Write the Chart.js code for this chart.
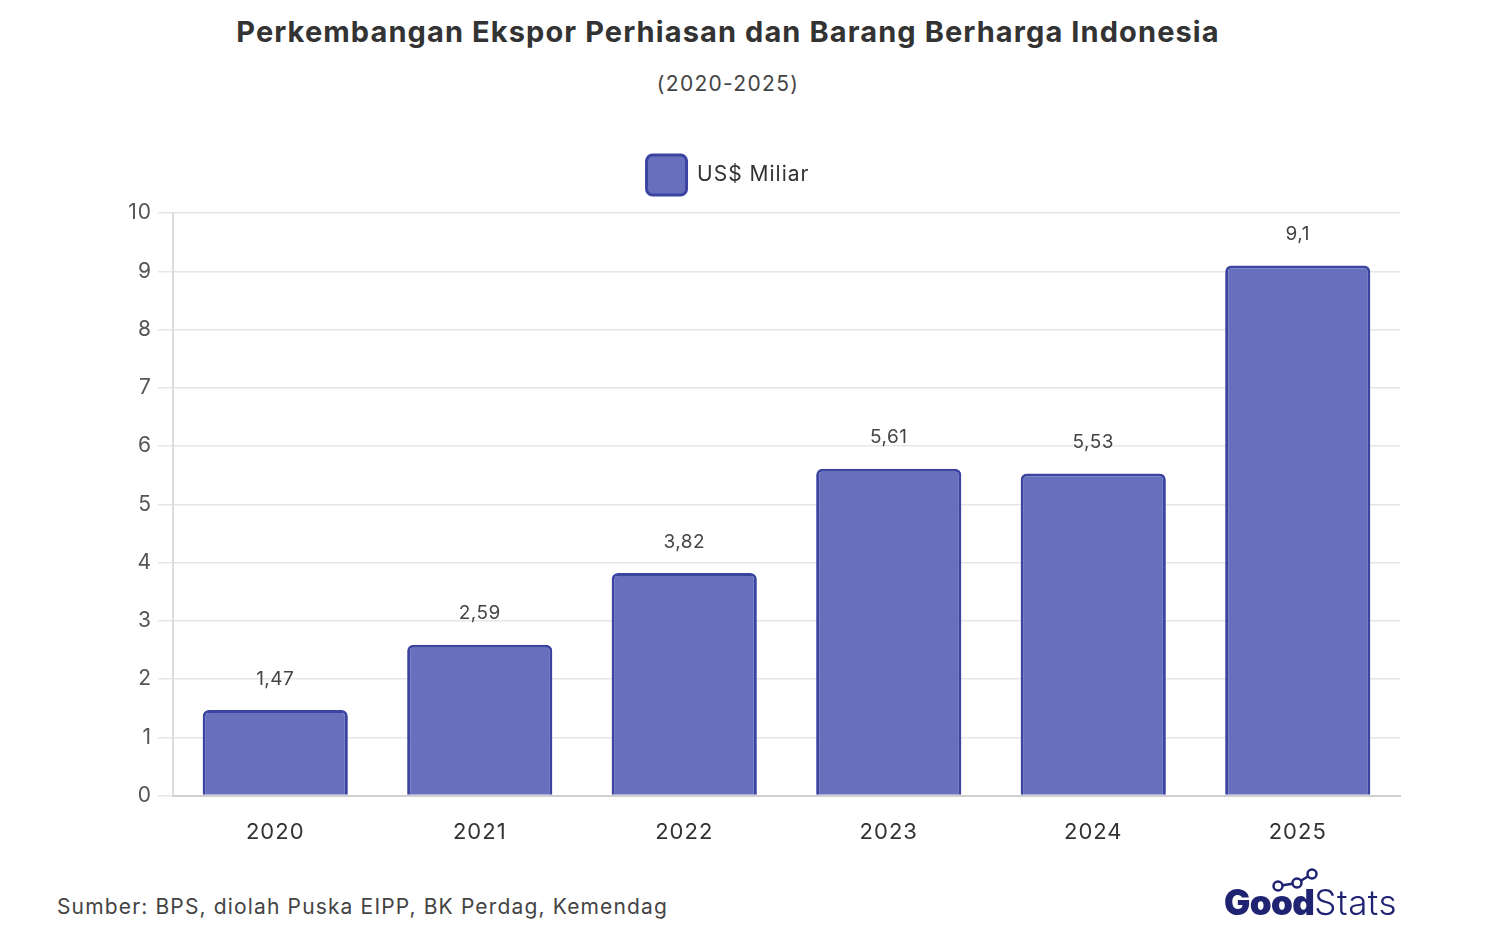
<!DOCTYPE html>
<html>
<head>
<meta charset="utf-8">
<script src="https://cdn.jsdelivr.net/npm/chart.js@4"></script>
<style>
    html, body { margin: 0; padding: 0; background: #fff; }
    body { width: 1506px; height: 946px; position: relative; overflow: hidden; font-family: 'Inter', sans-serif; }
    #title { position: absolute; left: 0; width: 1456px; top: 14px; text-align: center; font-size: 29px; font-weight: 700; color: #333; letter-spacing: 1.1px; }
    #subtitle { position: absolute; left: 0; width: 1456px; top: 71px; text-align: center; font-size: 21px; color: #444; letter-spacing: 1.3px; }
    #wrap { position: absolute; left: 0; top: 0; width: 1456px; height: 870px; }
    #source { position: absolute; left: 57px; top: 894px; font-size: 21px; color: #444; letter-spacing: 1.15px; }
    #logo { position: absolute; left: 1215px; top: 862px; width: 190px; height: 60px; }
</style>
</head>
<body>
<div id="title">Perkembangan Ekspor Perhiasan dan Barang Berharga Indonesia</div>
<div id="subtitle">(2020-2025)</div>
<div id="wrap"><canvas id="exportChart"></canvas></div>
<div id="source">Sumber: BPS, diolah Puska EIPP, BK Perdag, Kemendag</div>
<svg id="logo" viewBox="0 0 190 60">
    <polyline points="63,24 82,21 97,12" fill="none" stroke="#1f2372" stroke-width="2.5"/>
    <circle cx="63" cy="24" r="4.5" fill="#fff" stroke="#1f2372" stroke-width="2.5"/>
    <circle cx="82" cy="21" r="4.5" fill="#fff" stroke="#1f2372" stroke-width="2.5"/>
    <circle cx="97" cy="12" r="4.5" fill="#fff" stroke="#1f2372" stroke-width="2.5"/>
    <text x="9" y="53" font-family="Inter, sans-serif" font-size="35" fill="#1f2372"><tspan font-weight="900" letter-spacing="-0.6">Good</tspan><tspan font-weight="300" letter-spacing="0.5">Stats</tspan></text>
</svg>

<script>
// data
const years = ['2020', '2021', '2022', '2023', '2024', '2025'];
const eksporValues = [1.47, 2.59, 3.82, 5.61, 5.53, 9.1];
const seriesLabel = 'US$ Miliar';

// jarak huruf pada canvas (agar mirip font aslinya)
const letterSpacingPlugin = {
    id: 'letterSpacing',
    beforeUpdate(chart) {
        chart.ctx.letterSpacing = '1px';
    },
    beforeLayout(chart) {
        // beri jarak ekstra di bawah legenda
        const legend = chart.legend;
        if (legend && !legend._extraGap) {
            const origFit = legend.fit;
            legend.fit = function() {
                origFit.call(this);
                this.height += 8;
            };
            legend._extraGap = true;
        }
    },
    beforeDraw(chart) {
        chart.ctx.letterSpacing = '1px';
    }
};

// label angka di atas batang
const valueLabelPlugin = {
    id: 'valueLabels',
    afterDatasetsDraw(chart) {
        const ctx = chart.ctx;
        const meta = chart.getDatasetMeta(0);
        ctx.save();
        ctx.font = '19px Inter, sans-serif';
        ctx.letterSpacing = '0.5px';
        ctx.fillStyle = '#444';
        ctx.textAlign = 'center';
        ctx.textBaseline = 'middle';
        meta.data.forEach((bar, i) => {
            const text = String(eksporValues[i]).replace('.', ',');
            ctx.fillText(text, bar.x, bar.y - 31);
        });
        ctx.restore();
    }
};

const ctx = document.getElementById('exportChart').getContext('2d');
new Chart(ctx, {
    type: 'bar',
    data: {
        labels: years,
        datasets: [{
            label: seriesLabel,
            data: eksporValues,
            backgroundColor: 'rgba(103, 112, 189, 1)',
            borderColor: 'rgba(60, 68, 162, 1)',
            borderWidth: 3,
            borderRadius: 6,
            borderSkipped: 'bottom',
            barPercentage: 0.71,
            categoryPercentage: 1
        }]
    },
    options: {
        responsive: true,
        maintainAspectRatio: false,
        animation: false,
        layout: {
            padding: { top: 137, right: 56, bottom: 8, left: 56 }
        },
        plugins: {
            legend: {
                position: 'top',
                labels: {
                    boxWidth: 40,
                    boxHeight: 40,
                    useBorderRadius: true,
                    borderRadius: 6,
                    padding: 18,
                    color: '#333',
                    font: { family: 'Inter, sans-serif', size: 21 }
                }
            },
            tooltip: { enabled: false }
        },
        scales: {
            x: {
                grid: { display: false },
                border: { display: true, color: '#cfcfcf', width: 2 },
                ticks: {
                    color: '#333',
                    padding: 16,
                    font: { family: 'Inter, sans-serif', size: 22 }
                }
            },
            y: {
                min: 0,
                max: 10,
                afterFit: function(scale) {
                    scale.width = 117;
                },
                ticks: {
                    stepSize: 1,
                    color: '#555',
                    padding: 6,
                    font: { family: 'Inter, sans-serif', size: 21 }
                },
                grid: {
                    color: '#e6e6e6',
                    lineWidth: 1.5,
                    tickLength: 15
                },
                border: { display: true, color: '#dcdcdc', width: 2 }
            }
        }
    },
    plugins: [letterSpacingPlugin, valueLabelPlugin]
});
</script>
</body>
</html>
